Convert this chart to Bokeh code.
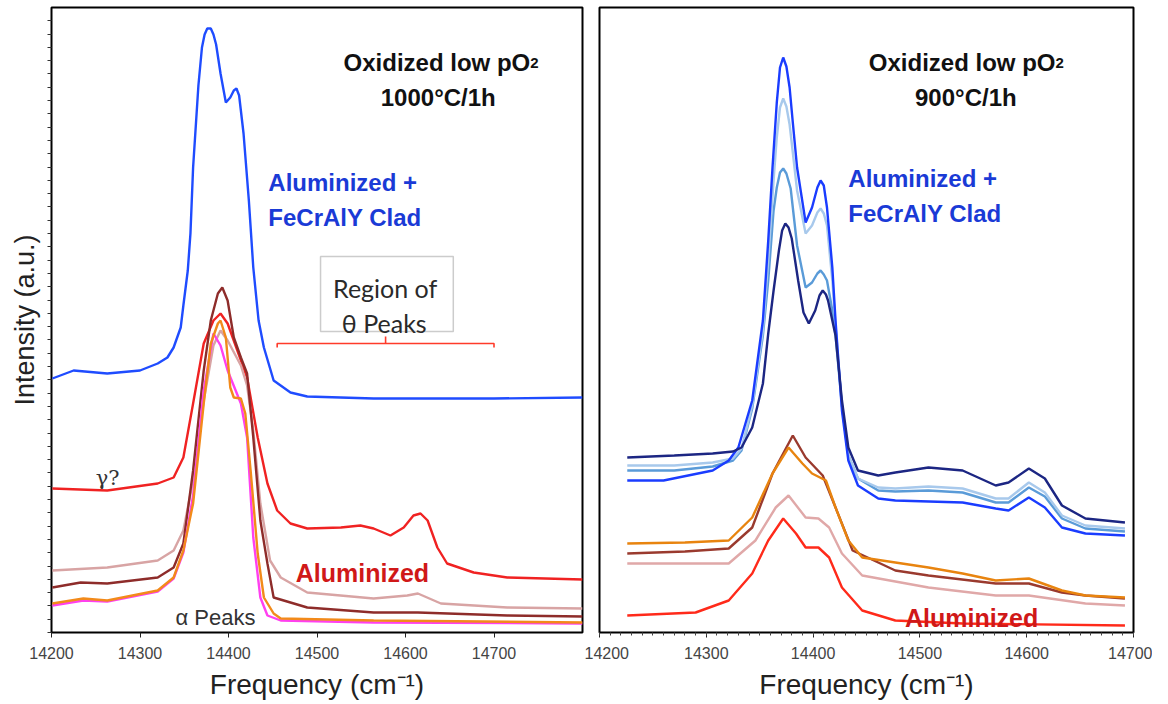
import numpy as np
from bokeh.plotting import figure
from bokeh.layouts import row
from bokeh.models import Range1d, FixedTicker, Label, BoxAnnotation, CustomJSTickFormatter
from bokeh.embed import file_html
from bokeh.resources import INLINE

# ---------------- Left panel: oxidized low pO2, 1000°C/1h ----------------
L_blue_f = [14201, 14225, 14263, 14300, 14320, 14331, 14338, 14346, 14349, 14354, 14357, 14360, 14366, 14370, 14373, 14376, 14380, 14383, 14386, 14391, 14397, 14402, 14406, 14409, 14412, 14417, 14423, 14428, 14434, 14440, 14451, 14470, 14489, 14564, 14700, 14800]
L_blue_i = [254, 262, 259, 262, 269, 275, 285, 305, 327, 362, 399, 465, 547, 585, 598, 604, 604, 598, 588, 559, 530, 535, 542, 544, 537, 499, 432, 365, 312, 285, 252, 240, 236, 234, 234, 235]

L_red_f = [14201, 14263, 14320, 14338, 14349, 14360, 14372, 14383, 14391, 14399, 14410, 14421, 14433, 14444, 14455, 14470, 14489, 14527, 14549, 14564, 14583, 14598, 14609, 14617, 14625, 14636, 14647, 14677, 14715, 14800]
L_red_i = [144, 142, 149, 155, 175, 229, 289, 312, 319, 309, 282, 255, 195, 149, 122, 109, 104, 105, 107, 104, 97, 105, 117, 119, 112, 85, 69, 60, 55, 53]

L_rose_f = [14201, 14263, 14320, 14338, 14349, 14360, 14372, 14383, 14391, 14399, 14414, 14421, 14428, 14436, 14447, 14459, 14489, 14564, 14602, 14614, 14640, 14715, 14800]
L_rose_i = [62, 65, 72, 82, 102, 152, 232, 287, 302, 292, 267, 247, 202, 129, 72, 55, 40, 34, 37, 39, 29, 25, 24]

L_maroon_f = [14201, 14233, 14263, 14320, 14338, 14349, 14360, 14372, 14380, 14388, 14393, 14399, 14406, 14414, 14421, 14428, 14436, 14444, 14451, 14489, 14564, 14614, 14715, 14800]
L_maroon_i = [45, 50, 49, 55, 65, 89, 162, 262, 312, 339, 345, 332, 295, 275, 259, 195, 112, 69, 35, 25, 20, 20, 17, 16]

L_magenta_f = [14201, 14236, 14263, 14320, 14338, 14349, 14360, 14372, 14383, 14391, 14399, 14414, 14421, 14428, 14436, 14444, 14459, 14564, 14800]
L_magenta_i = [27, 32, 31, 41, 54, 80, 137, 242, 299, 287, 262, 229, 195, 95, 35, 17, 12, 10, 9]

L_orange_f = [14201, 14236, 14263, 14320, 14338, 14349, 14360, 14372, 14380, 14388, 14391, 14397, 14402, 14406, 14414, 14419, 14425, 14433, 14440, 14451, 14459, 14564, 14800]
L_orange_i = [29, 34, 32, 42, 55, 82, 129, 229, 289, 309, 312, 295, 245, 235, 234, 219, 162, 79, 35, 19, 14, 12, 10]

# ---------------- Right panel: oxidized low pO2, 900°C/1h ----------------
R_navy_f = [14226, 14270, 14306, 14325, 14333, 14343, 14353, 14358, 14363, 14368, 14371, 14374, 14377, 14380, 14386, 14391, 14396, 14402, 14406, 14409, 14412, 14414, 14418, 14421, 14427, 14433, 14442, 14461, 14477, 14508, 14540, 14571, 14583, 14602, 14617, 14633, 14655, 14692]
R_navy_i = [175, 177, 179, 181, 185, 205, 249, 299, 342, 382, 402, 409, 405, 394, 352, 320, 309, 322, 337, 342, 338, 332, 312, 297, 232, 185, 162, 157, 160, 165, 162, 147, 150, 164, 154, 127, 114, 110]

R_bright_f = [14226, 14260, 14306, 14321, 14330, 14343, 14353, 14358, 14362, 14366, 14369, 14372, 14375, 14378, 14381, 14385, 14393, 14399, 14404, 14407, 14410, 14413, 14418, 14421, 14427, 14433, 14442, 14461, 14477, 14540, 14571, 14583, 14602, 14617, 14633, 14655, 14692]
R_bright_i = [152, 152, 162, 172, 185, 232, 312, 392, 465, 530, 565, 575, 566, 545, 510, 465, 410, 425, 445, 452, 447, 425, 365, 312, 222, 172, 147, 134, 132, 130, 124, 122, 135, 125, 105, 99, 97]

R_pale_f = [14226, 14270, 14306, 14325, 14333, 14343, 14353, 14358, 14363, 14366, 14369, 14372, 14375, 14378, 14381, 14385, 14393, 14399, 14404, 14407, 14410, 14413, 14418, 14421, 14427, 14433, 14442, 14461, 14477, 14508, 14540, 14571, 14583, 14602, 14617, 14633, 14655, 14692]
R_pale_i = [167, 167, 170, 174, 184, 227, 302, 372, 452, 495, 525, 534, 526, 508, 480, 442, 399, 407, 420, 424, 419, 407, 352, 307, 227, 177, 154, 145, 144, 146, 144, 134, 134, 150, 140, 117, 107, 104]

R_mid_f = [14226, 14270, 14306, 14325, 14333, 14343, 14353, 14358, 14363, 14366, 14369, 14372, 14375, 14379, 14385, 14393, 14399, 14404, 14407, 14410, 14413, 14418, 14421, 14427, 14433, 14442, 14461, 14477, 14508, 14540, 14571, 14583, 14602, 14617, 14633, 14655, 14692]
R_mid_i = [162, 162, 166, 172, 182, 224, 297, 352, 422, 445, 460, 464, 459, 444, 387, 345, 350, 359, 362, 358, 352, 322, 297, 227, 177, 154, 142, 141, 142, 140, 130, 130, 145, 136, 114, 104, 101]

R_orange_f = [14226, 14280, 14321, 14343, 14362, 14377, 14390, 14399, 14412, 14421, 14433, 14446, 14477, 14508, 14540, 14571, 14602, 14633, 14655, 14692]
R_orange_i = [89, 90, 92, 115, 159, 185, 169, 159, 152, 125, 92, 75, 70, 65, 59, 52, 54, 42, 37, 35]

R_maroon_f = [14226, 14280, 14321, 14343, 14362, 14381, 14393, 14409, 14421, 14437, 14477, 14508, 14571, 14602, 14633, 14655, 14692]
R_maroon_i = [79, 81, 84, 105, 159, 197, 175, 157, 125, 82, 62, 57, 49, 49, 40, 37, 34]

R_rose_f = [14226, 14321, 14346, 14365, 14377, 14393, 14405, 14415, 14427, 14446, 14508, 14571, 14602, 14655, 14692]
R_rose_i = [69, 69, 92, 125, 137, 115, 114, 105, 79, 57, 45, 37, 37, 29, 27]

R_red_f = [14226, 14290, 14321, 14343, 14358, 14372, 14384, 14393, 14405, 14415, 14427, 14446, 14477, 14540, 14692]
R_red_i = [17, 20, 32, 59, 92, 114, 99, 85, 85, 75, 45, 22, 12, 9, 7]

x_ticks = [14200, 14300, 14400, 14500, 14600, 14700]
theta_region = (14455, 14700)

NARROW = "'Liberation Sans Narrow', 'Arial Narrow', 'Liberation Sans', sans-serif"
SANS = "'Liberation Sans', Arial, sans-serif"
H = 702
Y_MAX = 625


def base_fig(width, xr, left, right):
    p = figure(width=width, height=H, x_range=Range1d(*xr), y_range=Range1d(0, Y_MAX),
               output_backend="svg", toolbar_location=None,
               min_border_left=left, min_border_right=right, min_border_top=7, min_border_bottom=70)
    p.xgrid.visible = False
    p.ygrid.visible = False
    p.outline_line_color = "black"
    p.outline_line_width = 2
    p.background_fill_color = "white"
    p.border_fill_color = "white"
    p.xaxis.axis_line_color = None
    p.xaxis.major_tick_line_color = "#222222"
    p.xaxis.major_tick_out = 5
    p.xaxis.major_tick_in = 0
    p.xaxis.major_label_text_font = NARROW
    p.xaxis.major_label_text_font_size = "16px"
    p.xaxis.major_label_text_color = "#444444"
    p.xaxis.major_label_standoff = 9
    p.xaxis.axis_label = "Frequency (cm\u207b\u00b9)"
    p.xaxis.axis_label_text_font = SANS
    p.xaxis.axis_label_text_font_style = "normal"
    p.xaxis.axis_label_text_font_size = "28px"
    p.xaxis.axis_label_text_color = "#222222"
    p.xaxis.axis_label_standoff = 7
    return p


def title(p, xend, xc, l2):
    p.add_layout(Label(x=xend, y=570, text="Oxidized low pO", text_align="right", text_baseline="alphabetic",
                       text_font=NARROW, text_font_style="bold", text_font_size="24px", text_color="#111111"))
    p.add_layout(Label(x=xend, y=570, text="2", text_align="left", text_baseline="alphabetic",
                       text_font=NARROW, text_font_style="bold", text_font_size="15px", text_color="#111111"))
    p.add_layout(Label(x=xc, y=535, text=l2, text_align="center", text_baseline="alphabetic",
                       text_font=NARROW, text_font_style="bold", text_font_size="24px", text_color="#111111"))


def blue_text(p, x, y1, y2):
    for t, y in (("Aluminized +", y1), ("FeCrAlY Clad", y2)):
        p.add_layout(Label(x=x, y=y, text=t, text_align="left", text_baseline="alphabetic",
                           text_font=NARROW, text_font_style="bold", text_font_size="24px", text_color="#1a3ad6"))


# ---------------- Left figure ----------------
p1 = base_fig(584, (14200, 14800), 51, 2)
p1.xaxis.ticker = FixedTicker(ticks=x_ticks)
p1.yaxis.ticker = FixedTicker(ticks=list(np.arange(0, Y_MAX, 13.3)))
p1.yaxis.formatter = CustomJSTickFormatter(code="return ''")
p1.yaxis.major_label_text_font_size = "0px"
p1.yaxis.major_label_standoff = 0
p1.yaxis.axis_line_color = None
p1.yaxis.major_tick_out = 4
p1.yaxis.major_tick_in = 0
p1.yaxis.major_tick_line_color = "#333333"
p1.yaxis.axis_label = "Intensity (a.u.)"
p1.yaxis.axis_label_text_font = SANS
p1.yaxis.axis_label_text_font_style = "normal"
p1.yaxis.axis_label_text_font_size = "27px"
p1.yaxis.axis_label_text_color = "#222222"
p1.yaxis.axis_label_standoff = 8

lw = 2.4
p1.line(L_blue_f, L_blue_i, line_color="#1f4cff", line_width=lw)
p1.line(L_red_f, L_red_i, line_color="#f02222", line_width=lw)
p1.line(L_rose_f, L_rose_i, line_color="#d8a4a4", line_width=lw)
p1.line(L_maroon_f, L_maroon_i, line_color="#8e2c2a", line_width=lw)
p1.line(L_magenta_f, L_magenta_i, line_color="#ff40f0", line_width=lw)
p1.line(L_orange_f, L_orange_i, line_color="#f28a1a", line_width=lw)

title(p1, 14741, 14637, "1000\u00b0C/1h")
blue_text(p1, 14445, 450, 415)

p1.add_layout(BoxAnnotation(left=14504, right=14654, bottom=301, top=376, fill_color="white", fill_alpha=1,
                            line_color="#555555", line_width=1.5))
p1.add_layout(Label(x=14577, y=345, text="Region of", text_align="center", text_baseline="alphabetic",
                    text_font="Lato", text_font_size="25px", text_color="#2a2a2a"))
p1.add_layout(Label(x=14576, y=310, text="\u03b8 Peaks", text_align="center", text_baseline="alphabetic",
                    text_font="Lato", text_font_size="25px", text_color="#2a2a2a"))
# bracket marking the theta region
t0, t1 = theta_region
tm = (t0 + t1) / 2
p1.line([t0, t0, t1, t1], [285, 289, 289, 285], line_color="#ff3b2a", line_width=1.6)
p1.segment(x0=[tm], y0=[289], x1=[tm], y1=[296], line_color="#ff3b2a", line_width=1.6)

p1.add_layout(Label(x=14476, y=60, text="Aluminized", text_align="left", text_baseline="alphabetic",
                    text_font=NARROW, text_font_style="bold", text_font_size="25px", text_color="#d01818"))
p1.add_layout(Label(x=14250, y=155, text="\u03b3?", text_align="left", text_baseline="alphabetic",
                    text_font="DejaVu Serif", text_font_size="21px", text_color="#333333"))
p1.add_layout(Label(x=14340, y=15, text="\u03b1 Peaks", text_align="left", text_baseline="alphabetic",
                    text_font=SANS, text_font_size="22px", text_color="#333333"))

# ---------------- Right figure ----------------
p2 = base_fig(568, (14200, 14700), 15, 19)
p2.xaxis.ticker = FixedTicker(ticks=x_ticks, minor_ticks=list(range(14200, 14701, 10)))
p2.xaxis.minor_tick_out = 3
p2.xaxis.minor_tick_in = 0
p2.xaxis.minor_tick_line_color = "#444444"
p2.yaxis.visible = False

p2.line(R_mid_f, R_mid_i, line_color="#5a9bd8", line_width=lw)
p2.line(R_pale_f, R_pale_i, line_color="#a8c9ec", line_width=lw)
p2.line(R_bright_f, R_bright_i, line_color="#1a3cff", line_width=lw)
p2.line(R_navy_f, R_navy_i, line_color="#1c2683", line_width=lw)
p2.line(R_rose_f, R_rose_i, line_color="#e0a8a8", line_width=lw)
p2.line(R_maroon_f, R_maroon_i, line_color="#9a3a2e", line_width=lw)
p2.line(R_orange_f, R_orange_i, line_color="#e8840f", line_width=lw)
p2.line(R_red_f, R_red_i, line_color="#ff2a1a", line_width=lw)

title(p2, 14627, 14543, "900\u00b0C/1h")
blue_text(p2, 14433, 454, 419)
p2.add_layout(Label(x=14486, y=15, text="Aluminized", text_align="left", text_baseline="alphabetic",
                    text_font=NARROW, text_font_style="bold", text_font_size="25px", text_color="#d01818"))

layout = row(p1, p2)
open("out.html", "w").write(file_html(layout, INLINE))
